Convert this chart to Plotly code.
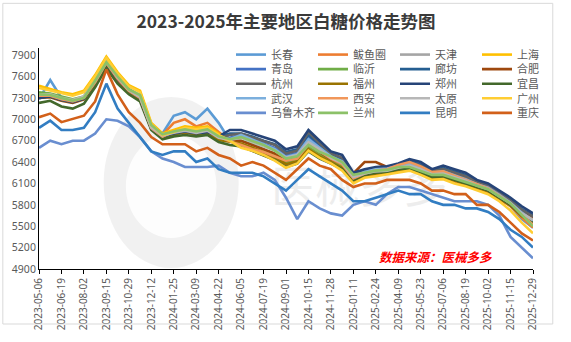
import plotly.graph_objects as go

title_text = "2023-2025年主要地区白糖价格走势图"
source_text = "数据来源：医械多多"

dates = ["2023-05-06","2023-05-28","2023-06-19","2023-07-11","2023-08-02","2023-08-24","2023-09-15",
         "2023-10-07","2023-10-29","2023-11-20","2023-12-12","2024-01-03","2024-01-25","2024-02-16",
         "2024-03-09","2024-03-31","2024-04-22","2024-05-14","2024-06-05","2024-06-27","2024-07-19",
         "2024-08-10","2024-09-01","2024-09-23","2024-10-15","2024-11-06","2024-11-28","2024-12-20",
         "2025-01-11","2025-02-02","2025-02-24","2025-03-18","2025-04-09","2025-05-01","2025-05-23",
         "2025-06-14","2025-07-06","2025-07-28","2025-08-19","2025-09-10","2025-10-02","2025-10-24",
         "2025-11-15","2025-12-07","2025-12-29"]

tick_dates = ["2023-05-06","2023-06-19","2023-08-02","2023-09-15","2023-10-29","2023-12-12",
              "2024-01-25","2024-03-09","2024-04-22","2024-06-05","2024-07-19","2024-09-01",
              "2024-10-15","2024-11-28","2025-01-11","2025-02-24","2025-04-09","2025-05-23",
              "2025-07-06","2025-08-19","2025-10-02","2025-11-15","2025-12-29"]

changchun = [7280,7550,7300,7250,7300,7560,7800,7580,7400,7300,6900,6800,7050,7100,7000,7150,6950,6700,6650,6600,6520,6460,6360,6400,6600,6500,6420,6340,6150,6220,6250,6260,6300,6310,6260,6190,6200,6150,6100,6050,6000,5900,5780,5600,5480]
bayuquan = [7320,7320,7270,7240,7290,7510,7780,7560,7390,7290,6870,6780,6950,7000,6900,6950,6820,6700,6620,6560,6500,6440,6350,6400,6580,6480,6400,6320,6130,6200,6230,6240,6280,6290,6240,6170,6180,6130,6080,6030,5980,5880,5780,5620,5480]
tianjin = [7340,7340,7290,7260,7310,7540,7810,7590,7420,7320,6880,6760,6800,6820,6800,6820,6720,6720,6760,6700,6640,6580,6480,6520,6700,6600,6480,6400,6200,6250,6280,6290,6330,6360,6310,6240,6250,6200,6150,6080,6030,5930,5830,5690,5600]
shanghai = [7470,7420,7380,7350,7400,7620,7880,7660,7480,7400,6950,6800,6850,6900,6880,6900,6800,6720,6650,6600,6550,6480,6380,6420,6600,6500,6420,6330,6150,6220,6250,6260,6300,6320,6260,6180,6200,6150,6100,6050,6000,5900,5800,5650,5550]
qingdao = [7320,7330,7280,7250,7300,7520,7790,7570,7400,7300,6880,6760,6800,6830,6800,6820,6730,6740,6780,6720,6660,6600,6490,6530,6760,6620,6490,6420,6210,6270,6300,6320,6360,6420,6370,6280,6300,6250,6200,6110,6060,5960,5850,5720,5620]
linyi = [7380,7360,7320,7280,7320,7560,7820,7600,7420,7330,6900,6780,6820,6850,6820,6850,6750,6700,6700,6650,6580,6500,6400,6440,6600,6500,6420,6350,6180,6240,6270,6280,6320,6330,6280,6210,6210,6160,6110,6060,6010,5910,5810,5660,5520]
langfang = [7320,7330,7280,7250,7300,7520,7790,7570,7400,7300,6880,6760,6800,6830,6800,6830,6750,6800,6800,6760,6700,6650,6540,6580,6780,6650,6520,6450,6230,6280,6310,6320,6360,6410,6360,6280,6320,6270,6220,6130,6080,5980,5870,5740,5650]
hefei = [7300,7310,7260,7230,7280,7500,7770,7550,7390,7290,6870,6750,6790,6820,6790,6810,6720,6700,6700,6640,6580,6520,6420,6460,6640,6540,6440,6380,6240,6400,6400,6330,6350,6380,6330,6250,6270,6220,6170,6090,6040,5940,5840,5700,5600]
hangzhou = [7330,7340,7290,7260,7310,7530,7800,7580,7420,7320,6890,6770,6810,6840,6810,6830,6740,6780,6800,6750,6700,6640,6520,6560,6820,6660,6520,6460,6220,6270,6300,6310,6350,6400,6350,6270,6300,6250,6200,6120,6070,5970,5860,5730,5640]
fuzhou = [7310,7320,7270,7240,7290,7510,7780,7560,7390,7290,6870,6750,6790,6820,6790,6810,6710,6680,6660,6600,6540,6470,6370,6410,6580,6480,6400,6320,6140,6210,6240,6250,6290,6300,6250,6180,6190,6140,6090,6040,5990,5890,5790,5640,5540]
zhengzhou = [7300,7320,7270,7240,7290,7520,7780,7560,7400,7300,6880,6760,6800,6830,6800,6820,6760,6850,6850,6800,6750,6700,6580,6620,6850,6700,6550,6500,6250,6300,6330,6340,6380,6440,6400,6300,6350,6300,6250,6150,6100,6000,5900,5780,5680]
yichang = [7230,7260,7180,7150,7220,7450,7720,7500,7350,7250,6850,6720,6760,6780,6760,6780,6680,6640,6620,6560,6500,6430,6330,6380,6550,6450,6380,6300,6150,6220,6250,6260,6300,6310,6260,6190,6200,6150,6100,6050,6000,5900,5800,5650,5550]
wuhan = [7340,7340,7290,7260,7310,7530,7800,7580,7410,7310,6880,6760,6820,6860,6830,6850,6750,6720,6780,6720,6650,6580,6470,6510,6720,6600,6480,6410,6200,6260,6300,6310,6350,6380,6320,6250,6270,6220,6160,6090,6040,5940,5830,5690,5580]
xian = [7330,7330,7280,7250,7300,7520,7790,7570,7400,7300,6880,6760,6830,6870,6840,6860,6760,6690,6640,6580,6540,6480,6420,6450,6650,6550,6450,6370,6170,6240,6280,6300,6360,6400,6340,6260,6270,6210,6150,6080,6030,5930,5820,5660,5520]
taiyuan = [7350,7350,7300,7270,7320,7540,7810,7590,7410,7310,6890,6770,6810,6840,6810,6840,6740,6710,6740,6680,6620,6560,6460,6500,6680,6580,6460,6390,6190,6240,6270,6280,6320,6350,6300,6230,6240,6190,6140,6070,6020,5920,5820,5680,5590]
guangzhou = [7440,7400,7360,7330,7380,7600,7860,7640,7460,7380,6930,6780,6820,6880,6860,6880,6780,6700,6600,6560,6500,6420,6320,6380,6560,6460,6380,6280,6100,6180,6200,6230,6260,6280,6220,6150,6160,6100,6060,6000,5950,5850,5720,5550,5400]
urumqi = [6600,6700,6650,6700,6700,6800,7000,6980,6900,6750,6550,6450,6400,6330,6330,6330,6350,6250,6200,6200,6250,6150,5900,5600,5850,5750,5680,5650,5800,5850,5800,5950,6050,6050,6000,5950,5900,5850,5850,5850,5800,5650,5350,5200,5050]
lanzhou = [7350,7340,7300,7260,7300,7540,7800,7600,7420,7340,6920,6790,6830,6860,6830,6860,6760,6720,6750,6700,6640,6560,6450,6480,6640,6540,6480,6400,6220,6250,6280,6290,6330,6330,6280,6220,6220,6170,6120,6070,6020,5920,5820,5660,5500]
kunming = [6880,6980,6850,6850,6880,7100,7500,7150,6950,6750,6550,6500,6550,6550,6400,6450,6300,6250,6250,6250,6200,6100,6000,6150,6300,6200,6100,6000,5850,5850,5900,5950,6000,5950,5950,5850,5800,5800,5750,5750,5700,5600,5450,5350,5200]
chongqing = [7030,7080,6960,7000,7050,7250,7700,7350,7100,6950,6750,6650,6650,6650,6550,6600,6500,6450,6350,6400,6350,6250,6150,6300,6450,6350,6300,6150,6050,6100,6100,6150,6150,6150,6100,6000,6000,5950,5950,5800,5800,5700,5550,5400,5300]

names = ["长春","鲅鱼圈","天津","上海","青岛","临沂","廊坊","合肥","杭州","福州",
         "郑州","宜昌","武汉","西安","太原","广州","乌鲁木齐","兰州","昆明","重庆"]
series = [changchun,bayuquan,tianjin,shanghai,qingdao,linyi,langfang,hefei,hangzhou,fuzhou,
          zhengzhou,yichang,wuhan,xian,taiyuan,guangzhou,urumqi,lanzhou,kunming,chongqing]
colors = ["#5B9BD5","#ED7D31","#A5A5A5","#FFC000","#4472C4","#70AD47","#255E91","#9E480E",
          "#636363","#997300","#264478","#43682B","#7CAFDD","#F1975A","#B7B7B7","#FFCD33",
          "#698ED0","#8CC168","#327DC2","#D2601A"]

W, H = 571, 342
ML, MR, MT, MB = 38, 21, 48, 59
PW, PH = W - ML - MR, H - MT - MB

fig = go.Figure()
legend_ids = ["legend", "legend2", "legend3", "legend4", "legend5"]
for i, (n, s, c) in enumerate(zip(names, series, colors)):
    fig.add_trace(go.Scatter(x=dates, y=s, name=n, mode="lines",
                             line=dict(color=c, width=2.6),
                             legend=legend_ids[i // 4]))

def px_to_paper_x(px):
    return (px - ML) / PW

def px_to_paper_y(py):
    return (H - MB - py) / PH

row_centers = [55, 70.5, 86, 101.5, 117]
legend_font = dict(family="Noto Sans CJK SC", size=11, color="#595959")
leg_common = dict(orientation="h", x=px_to_paper_x(237), xanchor="left", yanchor="middle",
                  bgcolor="rgba(0,0,0,0)", font=legend_font, entrywidth=37,
                  entrywidthmode="pixels", itemwidth=30, borderwidth=0, tracegroupgap=0)
legends = {}
for r, lid in enumerate(legend_ids):
    legends[lid] = dict(leg_common, y=px_to_paper_y(row_centers[r]))

fig.update_layout(
    width=W, height=H,
    margin=dict(l=ML, r=MR, t=MT, b=MB),
    paper_bgcolor="white", plot_bgcolor="white",
    title=dict(text=title_text, x=0.5, xref="paper", xanchor="center", y=1 - 22 / H, yanchor="middle",
               font=dict(family="Noto Sans CJK SC", size=17.5, color="#3A3A3A", weight="bold")),
    showlegend=True,
    **legends,
    xaxis=dict(type="date", range=[dates[0], dates[-1]], tickvals=tick_dates, ticktext=tick_dates,
               tickangle=-90, ticks="outside", ticklen=4, tickcolor="#000000", showline=True,
               linecolor="#000000", linewidth=1, showgrid=False, zeroline=False,
               tickfont=dict(family="Noto Sans", size=10, color="#595959")),
    yaxis=dict(range=[4900, 8000], tick0=4900, dtick=300, showline=True, linecolor="#000000",
               linewidth=1, showgrid=False, zeroline=False, ticks="",
               tickfont=dict(family="Noto Sans", size=10.5, color="#595959")),
)

# watermark (background)
fig.add_shape(type="circle", xref="paper", yref="paper", layer="below",
              x0=px_to_paper_x(105), x1=px_to_paper_x(245), y0=px_to_paper_y(282), y1=px_to_paper_y(100),
              line=dict(width=0), fillcolor="rgba(0,0,0,0.055)")
fig.add_shape(type="circle", xref="paper", yref="paper", layer="below",
              x0=px_to_paper_x(128), x1=px_to_paper_x(222), y0=px_to_paper_y(250), y1=px_to_paper_y(140),
              line=dict(width=0), fillcolor="rgba(255,255,255,0.85)")
fig.add_shape(type="rect", xref="paper", yref="paper", layer="below",
              x0=px_to_paper_x(270), x1=px_to_paper_x(470), y0=px_to_paper_y(230), y1=px_to_paper_y(170),
              line=dict(width=0), fillcolor="rgba(0,0,0,0)",
              label=dict(text="医械多多", font=dict(family="Noto Sans CJK SC", size=44, color="#EDEDED")))

fig.add_annotation(text=source_text, xref="paper", yref="paper", x=px_to_paper_x(449),
                   y=px_to_paper_y(270), xanchor="center", yanchor="middle", showarrow=False,
                   font=dict(family="Noto Sans CJK SC", size=12.5, color="#FF0000", weight="bold",
                             style="italic"))

# outer border
fig.add_shape(type="rect", xref="paper", yref="paper", layer="above",
              x0=(0.5 - ML) / PW, x1=(W - 0.5 - ML) / PW,
              y0=(-(MB - 0.5)) / PH, y1=(H - MB - 0.5) / PH,
              line=dict(color="#D9D9D9", width=1))

fig.write_html("out.html")
